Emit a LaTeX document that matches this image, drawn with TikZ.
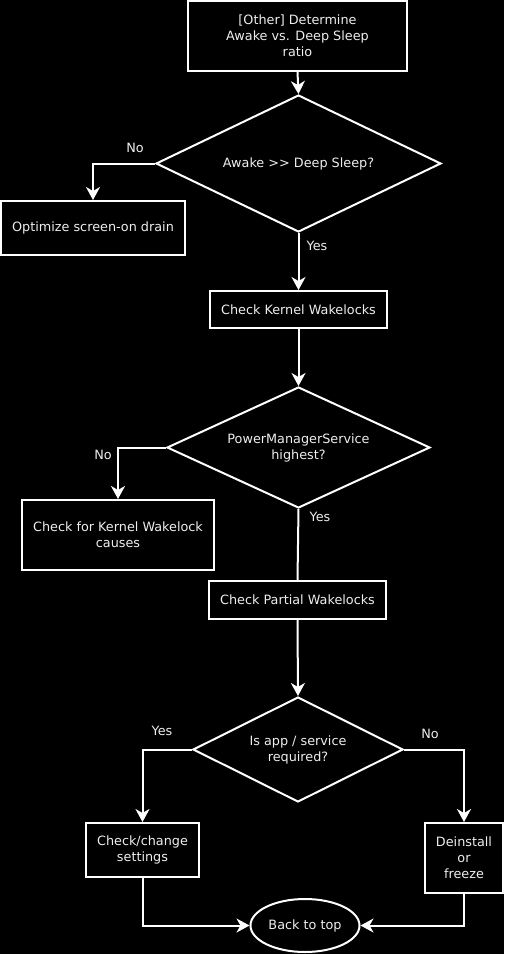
\documentclass[tikz,border=0pt]{standalone}
\usepackage{fontspec}
\setmainfont{DejaVu Sans}
\usetikzlibrary{shapes.geometric,arrows.meta}
\definecolor{txt}{HTML}{EEEEEE}
\tikzset{
  every node/.style={font=\fontsize{12.8}{16}\selectfont, text=txt},
  box/.style={draw=white, line width=2pt, rectangle, inner sep=0pt, align=center},
  dec/.style={draw=white, line width=2pt, diamond, inner sep=0pt, align=center},
  term/.style={draw=white, line width=2pt, ellipse, inner sep=0pt, align=center},
  conn/.style={draw=white, line width=2pt},
  arr/.style={conn, -{Stealth[length=13pt,width=14pt,inset=4pt]}},
  lbl/.style={inner sep=0pt}
}
\begin{document}
\begin{tikzpicture}[x=1pt,y=-1pt]
\fill[black] (0,0) rectangle (504,954);
\useasboundingbox (0,0) rectangle (504,954);

\node[box, minimum width=219, minimum height=70] (b1) at (297.5,36) {[Other] Determine\\Awake vs. Deep Sleep\\ratio};
\node[dec, aspect=2.08, minimum width=285, minimum height=137] (d1) at (298.5,163.5) {Awake >\kern0pt> Deep Sleep?};
\node[box, minimum width=184, minimum height=54] (opt) at (93,228) {Optimize screen-on drain};
\node[box, minimum width=177, minimum height=37] (ckw) at (298.5,309.5) {Check Kernel Wakelocks};
\node[dec, aspect=2.17, minimum width=263, minimum height=121] (d2) at (298.5,447.5) {PowerManagerService\\highest?};
\node[box, minimum width=192, minimum height=70] (ckwc) at (118,535) {Check for Kernel Wakelock\\causes};
\node[box, minimum width=177, minimum height=38] (cpw) at (297.5,600) {Check Partial Wakelocks};
\node[dec, aspect=2, minimum width=210, minimum height=105] (d3) at (298,749.5) {Is app / service\\required?};
\node[box, minimum width=113, minimum height=54] (ccs) at (142.5,850) {Check/change\\settings};
\node[box, minimum width=78, minimum height=70] (dof) at (464,858) {Deinstall\\or\\freeze};
\node[term, minimum width=109, minimum height=53] (btt) at (305,925.5) {Back to top};

\draw[arr] (b1.south) -- (d1.north);
\draw[arr] (d1.west) -| (opt.north);
\node[lbl] (l1) at (135,148) {No};
\draw[arr] (d1.south) -- (ckw.north);
\node[lbl] (l2) at (317,246) {Yes};
\draw[arr] (ckw.south) -- (d2.north);
\draw[arr] (d2.west) -| (ckwc.north);
\node[lbl] (l3) at (103,455) {No};
\draw[conn] (d2.south) -- (cpw.north);
\node[lbl] (l4) at (320,517) {Yes};
\draw[arr] (cpw.south) -- (d3.north);
\draw[arr] (d3.west) -| (ccs.north);
\node[lbl] (l5) at (162,731) {Yes};
\draw[arr] (d3.east) -| (dof.north);
\node[lbl] (l6) at (430,734) {No};
\draw[arr] (ccs.south) |- (btt.west);
\draw[arr] (dof.south) |- (btt.east);
\end{tikzpicture}
\end{document}
